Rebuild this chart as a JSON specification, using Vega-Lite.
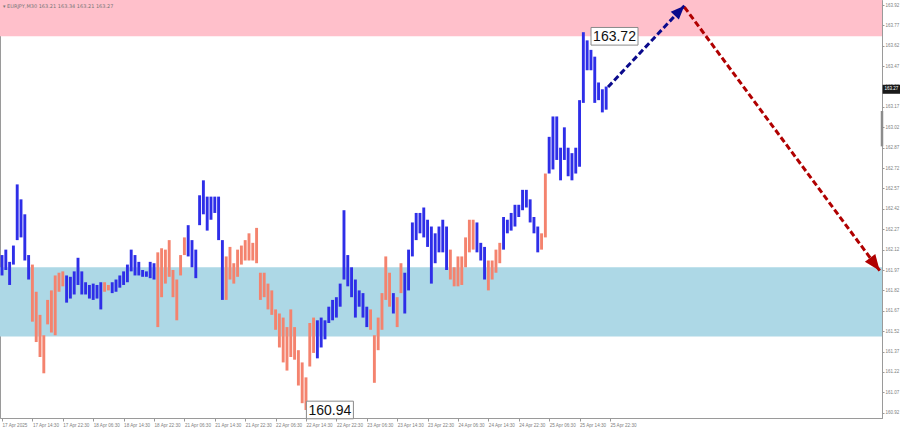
{
  "$schema": "https://vega.github.io/schema/vega-lite/v6.json",
  "width": 882,
  "height": 418,
  "autosize": {"type": "none"},
  "padding": {"left": 0, "top": 0, "right": 18, "bottom": 12},
  "background": "white",
  "title": {"text": "▾ EURJPY,M30  163.21 163.34 163.21 163.27", "anchor": "start", "frame": "group", "offset": -9, "fontSize": 5, "fontWeight": "normal", "color": "#777777", "font": "DejaVu Sans", "dx": 3},
  "config": {"view": {"stroke": "#9a9a9a", "strokeWidth": 1}, "axis": {"labelOverlap": false}},
  "datasets": {
    "zones": [
      {"zone": "resistance", "lo": 163.69, "hi": 163.957},
      {"zone": "support", "lo": 161.48, "hi": 161.99}
    ],
    "bars": [
      {"h":0,"hi":162.08,"lo":161.93,"d":"u"},{"h":1,"hi":162.12,"lo":161.97,"d":"u"},{"h":2,"hi":162.03,"lo":161.86,"d":"u"},{"h":3,"hi":162.15,"lo":162.01,"d":"u"},{"h":4,"hi":162.60,"lo":162.19,"d":"u"},{"h":5,"hi":162.49,"lo":162.21,"d":"u"},{"h":6,"hi":162.38,"lo":162.04,"d":"u"},{"h":7,"hi":162.08,"lo":161.90,"d":"u"},
      {"h":8,"hi":162.01,"lo":161.59,"d":"d"},{"h":9,"hi":161.81,"lo":161.44,"d":"d"},{"h":10,"hi":161.64,"lo":161.33,"d":"d"},{"h":11,"hi":161.49,"lo":161.21,"d":"d"},{"h":12,"hi":161.75,"lo":161.57,"d":"d"},{"h":13,"hi":161.82,"lo":161.51,"d":"d"},{"h":14,"hi":161.93,"lo":161.49,"d":"d"},{"h":15,"hi":161.95,"lo":161.81,"d":"d"},{"h":16,"hi":161.96,"lo":161.85,"d":"d"},
      {"h":17,"hi":161.93,"lo":161.73,"d":"u"},{"h":18,"hi":161.92,"lo":161.76,"d":"u"},{"h":19,"hi":161.96,"lo":161.79,"d":"u"},{"h":20,"hi":162.06,"lo":161.86,"d":"u"},{"h":21,"hi":161.96,"lo":161.79,"d":"u"},{"h":22,"hi":161.88,"lo":161.79,"d":"u"},{"h":23,"hi":161.86,"lo":161.76,"d":"u"},{"h":24,"hi":161.87,"lo":161.75,"d":"u"},{"h":25,"hi":161.86,"lo":161.76,"d":"u"},{"h":26,"hi":161.88,"lo":161.68,"d":"u"},
      {"h":27,"hi":161.88,"lo":161.81,"d":"d"},{"h":28,"hi":161.86,"lo":161.82,"d":"d"},
      {"h":29,"hi":161.88,"lo":161.80,"d":"u"},{"h":30,"hi":161.90,"lo":161.81,"d":"u"},{"h":31,"hi":161.93,"lo":161.84,"d":"u"},{"h":32,"hi":161.96,"lo":161.86,"d":"u"},{"h":33,"hi":162.01,"lo":161.88,"d":"u"},{"h":34,"hi":162.12,"lo":161.96,"d":"u"},{"h":35,"hi":162.08,"lo":161.93,"d":"u"},{"h":36,"hi":162.03,"lo":161.93,"d":"u"},{"h":37,"hi":161.97,"lo":161.92,"d":"u"},{"h":38,"hi":161.96,"lo":161.92,"d":"u"},{"h":39,"hi":162.03,"lo":161.91,"d":"u"},{"h":40,"hi":162.02,"lo":161.90,"d":"u"},
      {"h":41,"hi":162.10,"lo":161.55,"d":"d"},{"h":42,"hi":162.13,"lo":161.77,"d":"d"},{"h":43,"hi":162.12,"lo":161.87,"d":"d"},{"h":44,"hi":162.19,"lo":161.92,"d":"d"},{"h":45,"hi":161.97,"lo":161.77,"d":"d"},{"h":46,"hi":161.90,"lo":161.60,"d":"d"},{"h":47,"hi":162.08,"lo":161.93,"d":"d"},{"h":48,"hi":162.21,"lo":162.08,"d":"d"},
      {"h":49,"hi":162.30,"lo":162.07,"d":"u"},{"h":50,"hi":162.19,"lo":161.99,"d":"u"},{"h":51,"hi":162.12,"lo":161.91,"d":"u"},{"h":52,"hi":162.52,"lo":162.30,"d":"u"},{"h":53,"hi":162.63,"lo":162.38,"d":"u"},{"h":54,"hi":162.51,"lo":162.26,"d":"u"},{"h":55,"hi":162.51,"lo":162.34,"d":"u"},{"h":56,"hi":162.51,"lo":162.39,"d":"u"},{"h":57,"hi":162.51,"lo":162.19,"d":"u"},{"h":58,"hi":162.19,"lo":161.75,"d":"u"},
      {"h":59,"hi":162.07,"lo":161.75,"d":"d"},{"h":60,"hi":162.14,"lo":161.90,"d":"d"},{"h":61,"hi":162.02,"lo":161.87,"d":"d"},{"h":62,"hi":162.12,"lo":161.92,"d":"d"},{"h":63,"hi":162.15,"lo":162.01,"d":"d"},{"h":64,"hi":162.19,"lo":162.04,"d":"d"},{"h":65,"hi":162.24,"lo":162.04,"d":"d"},{"h":66,"hi":162.17,"lo":162.04,"d":"d"},{"h":67,"hi":162.28,"lo":162.02,"d":"d"},{"h":68,"hi":161.95,"lo":161.75,"d":"d"},{"h":69,"hi":161.95,"lo":161.77,"d":"d"},{"h":70,"hi":161.87,"lo":161.68,"d":"d"},{"h":71,"hi":161.82,"lo":161.64,"d":"d"},{"h":72,"hi":161.68,"lo":161.53,"d":"d"},{"h":73,"hi":161.65,"lo":161.40,"d":"d"},{"h":74,"hi":161.62,"lo":161.29,"d":"d"},{"h":75,"hi":161.55,"lo":161.23,"d":"d"},{"h":76,"hi":161.68,"lo":161.33,"d":"d"},{"h":77,"hi":161.55,"lo":161.31,"d":"d"},{"h":78,"hi":161.38,"lo":161.12,"d":"d"},{"h":79,"hi":161.29,"lo":160.99,"d":"d"},{"h":80,"hi":161.18,"lo":160.94,"d":"d"},{"h":81,"hi":161.58,"lo":161.26,"d":"d"},{"h":82,"hi":161.62,"lo":161.36,"d":"d"},
      {"h":83,"hi":161.60,"lo":161.32,"d":"u"},{"h":84,"hi":161.62,"lo":161.40,"d":"u"},{"h":85,"hi":161.60,"lo":161.46,"d":"u"},{"h":86,"hi":161.70,"lo":161.58,"d":"u"},{"h":87,"hi":161.75,"lo":161.60,"d":"u"},{"h":88,"hi":161.77,"lo":161.62,"d":"u"},{"h":89,"hi":161.87,"lo":161.70,"d":"u"},{"h":90,"hi":162.41,"lo":161.90,"d":"u"},{"h":91,"hi":162.08,"lo":161.85,"d":"u"},{"h":92,"hi":161.99,"lo":161.77,"d":"u"},{"h":93,"hi":161.90,"lo":161.62,"d":"u"},{"h":94,"hi":161.82,"lo":161.70,"d":"u"},{"h":95,"hi":161.80,"lo":161.62,"d":"u"},{"h":96,"hi":161.70,"lo":161.55,"d":"u"},
      {"h":97,"hi":161.68,"lo":161.53,"d":"d"},{"h":98,"hi":161.49,"lo":161.14,"d":"d"},{"h":99,"hi":161.62,"lo":161.38,"d":"d"},{"h":100,"hi":161.80,"lo":161.53,"d":"d"},{"h":101,"hi":162.07,"lo":161.75,"d":"d"},{"h":102,"hi":161.95,"lo":161.70,"d":"d"},{"h":103,"hi":161.80,"lo":161.65,"d":"u"},{"h":104,"hi":161.77,"lo":161.55,"d":"d"},{"h":105,"hi":162.02,"lo":161.80,"d":"d"},
      {"h":106,"hi":161.95,"lo":161.65,"d":"u"},{"h":107,"hi":162.12,"lo":161.82,"d":"u"},{"h":108,"hi":162.32,"lo":162.07,"d":"u"},{"h":109,"hi":162.39,"lo":162.19,"d":"u"},{"h":110,"hi":162.39,"lo":162.24,"d":"u"},{"h":111,"hi":162.43,"lo":162.21,"d":"u"},{"h":112,"hi":162.34,"lo":162.14,"d":"u"},{"h":113,"hi":162.29,"lo":161.87,"d":"u"},{"h":114,"hi":162.24,"lo":162.02,"d":"u"},{"h":115,"hi":162.29,"lo":162.10,"d":"u"},{"h":116,"hi":162.34,"lo":162.10,"d":"u"},{"h":117,"hi":162.29,"lo":161.97,"d":"u"},
      {"h":118,"hi":162.12,"lo":161.90,"d":"d"},{"h":119,"hi":161.99,"lo":161.85,"d":"d"},{"h":120,"hi":162.07,"lo":161.85,"d":"d"},{"h":121,"hi":162.07,"lo":161.86,"d":"d"},{"h":122,"hi":162.21,"lo":161.99,"d":"d"},{"h":123,"hi":162.34,"lo":162.10,"d":"d"},{"h":124,"hi":162.34,"lo":162.12,"d":"d"},
      {"h":125,"hi":162.32,"lo":162.10,"d":"u"},{"h":126,"hi":162.17,"lo":162.04,"d":"u"},{"h":127,"hi":162.14,"lo":161.90,"d":"u"},
      {"h":128,"hi":162.04,"lo":161.82,"d":"d"},{"h":129,"hi":162.04,"lo":161.90,"d":"d"},{"h":130,"hi":162.12,"lo":161.95,"d":"d"},{"h":131,"hi":162.17,"lo":162.02,"d":"d"},
      {"h":132,"hi":162.36,"lo":162.12,"d":"u"},{"h":133,"hi":162.34,"lo":162.24,"d":"u"},{"h":134,"hi":162.39,"lo":162.26,"d":"u"},{"h":135,"hi":162.45,"lo":162.29,"d":"u"},{"h":136,"hi":162.45,"lo":162.36,"d":"u"},{"h":137,"hi":162.56,"lo":162.41,"d":"u"},{"h":138,"hi":162.56,"lo":162.43,"d":"u"},{"h":139,"hi":162.49,"lo":162.32,"d":"u"},{"h":140,"hi":162.36,"lo":162.24,"d":"u"},{"h":141,"hi":162.29,"lo":162.10,"d":"u"},
      {"h":142,"hi":162.24,"lo":162.12,"d":"d"},{"h":143,"hi":162.68,"lo":162.21,"d":"d"},
      {"h":144,"hi":162.95,"lo":162.68,"d":"u"},{"h":145,"hi":163.10,"lo":162.71,"d":"u"},{"h":146,"hi":163.10,"lo":162.78,"d":"u"},{"h":147,"hi":162.87,"lo":162.63,"d":"u"},{"h":148,"hi":163.02,"lo":162.78,"d":"u"},{"h":149,"hi":162.87,"lo":162.66,"d":"u"},{"h":150,"hi":162.83,"lo":162.63,"d":"u"},{"h":151,"hi":162.87,"lo":162.68,"d":"u"},{"h":152,"hi":163.22,"lo":162.73,"d":"u"},{"h":153,"hi":163.72,"lo":163.20,"d":"u"},{"h":154,"hi":163.66,"lo":163.44,"d":"u"},{"h":155,"hi":163.59,"lo":163.44,"d":"u"},{"h":156,"hi":163.54,"lo":163.20,"d":"u"},{"h":157,"hi":163.35,"lo":163.22,"d":"u"},{"h":158,"hi":163.30,"lo":163.13,"d":"u"},{"h":159,"hi":163.32,"lo":163.15,"d":"u"}
    ],
    "arrows": [
      {"a": "rise", "h": 159.5, "p": 163.317},
      {"a": "rise", "h": 179.6, "p": 163.915},
      {"a": "fall", "h": 179.6, "p": 163.905},
      {"a": "fall", "h": 231.0, "p": 161.965}
    ],
    "labels": [
      {"txt": "163.72", "h": 161.2, "p": 163.69},
      {"txt": "160.94", "h": 86.3, "p": 160.94}
    ],
    "lastPrice": [{"p": 163.30, "txt": "163.27"}],
    "shift": [{"top": 163.14, "bottom": 162.88}]
  },
  "layer": [
    {
      "data": {"name": "zones"},
      "mark": {"type": "rect"},
      "encoding": {
        "y": {"field": "lo", "type": "quantitative"},
        "y2": {"field": "hi"},
        "fill": {"field": "zone", "type": "nominal", "scale": {"domain": ["resistance", "support"], "range": ["#ffc0cb", "#add8e6"]}, "legend": null}
      }
    },
    {
      "data": {"name": "bars"},
      "mark": {"type": "rule", "strokeWidth": 2.9},
      "encoding": {
        "x": {"field": "h", "type": "quantitative", "scale": {"domain": [-0.53, 231.6], "nice": false, "zero": false},
          "axis": {"values": [0,8,16,24,32,40,48,56,64,72,80,88,96,104,112,120,128,136,144,152,160], "tickCount": 30, "title": null, "grid": false, "labelAlign": "left", "labelFontSize": 4.6, "labelFont": "Liberation Sans", "labelColor": "#808080", "tickColor": "#999999", "domainColor": "#9a9a9a", "tickSize": 3, "labelPadding": 1, "labelOverlap": false, "labelFlush": false, "labelBound": false,
            "labelExpr": "['17 Apr 2025','17 Apr 14:30','17 Apr 22:30','18 Apr 06:30','18 Apr 14:30','18 Apr 22:30','21 Apr 06:30','21 Apr 14:30','21 Apr 22:30','22 Apr 06:30','22 Apr 14:30','22 Apr 22:30','23 Apr 06:30','23 Apr 14:30','23 Apr 22:30','24 Apr 06:30','24 Apr 14:30','24 Apr 22:30','25 Apr 06:30','25 Apr 14:30','25 Apr 22:30'][round(datum.value/8)]"}},
        "y": {"field": "lo", "type": "quantitative", "scale": {"domain": [160.881, 163.957], "nice": false, "zero": false},
          "axis": {"orient": "right", "values": [160.92,161.07,161.22,161.37,161.52,161.67,161.82,161.97,162.12,162.27,162.42,162.57,162.72,162.87,163.02,163.17,163.32,163.47,163.62,163.77,163.92], "tickCount": 30, "format": ".2f", "title": null, "grid": false, "labelFontSize": 4.5, "labelFont": "Liberation Sans", "labelColor": "#808080", "tickColor": "#999999", "domainColor": "#9a9a9a", "tickSize": 2, "labelPadding": 1, "labelOverlap": false, "labelFlush": false, "labelBound": false}},
        "y2": {"field": "hi"},
        "stroke": {"field": "d", "type": "nominal", "scale": {"domain": ["u", "d"], "range": ["#2e2ee8", "#f4836e"]}, "legend": null}
      }
    },
    {
      "data": {"name": "arrows"},
      "transform": [{"filter": "datum.a == 'rise'"}],
      "mark": {"type": "line", "color": "#0a0a8c", "strokeWidth": 3, "strokeDash": [6, 3]},
      "encoding": {
        "x": {"field": "h", "type": "quantitative"},
        "y": {"field": "p", "type": "quantitative"}
      }
    },
    {
      "data": {"name": "arrows"},
      "transform": [{"filter": "datum.a == 'fall'"}],
      "mark": {"type": "line", "color": "#b00000", "strokeWidth": 3, "strokeDash": [6, 3]},
      "encoding": {
        "x": {"field": "h", "type": "quantitative"},
        "y": {"field": "p", "type": "quantitative"}
      }
    },
    {
      "data": {"name": "arrows"},
      "transform": [{"filter": "datum.a == 'rise' && datum.h > 170"}],
      "mark": {"type": "point", "shape": "M0,0L0.65,1.6L-0.65,1.6Z", "filled": true, "color": "#0a0a8c", "opacity": 1, "size": 300, "angle": 44},
      "encoding": {
        "x": {"field": "h", "type": "quantitative"},
        "y": {"field": "p", "type": "quantitative"}
      }
    },
    {
      "data": {"name": "arrows"},
      "transform": [{"filter": "datum.a == 'fall' && datum.h > 200"}],
      "mark": {"type": "point", "shape": "M0,0L0.65,1.6L-0.65,1.6Z", "filled": true, "color": "#b00000", "opacity": 1, "size": 400, "angle": 143},
      "encoding": {
        "x": {"field": "h", "type": "quantitative"},
        "y": {"field": "p", "type": "quantitative"}
      }
    },
    {
      "data": {"name": "labels"},
      "mark": {"type": "point", "shape": "M-1,-0.375H1V0.375H-1Z", "filled": true, "fill": "white", "stroke": "#8a8a8a", "strokeWidth": 1, "opacity": 1, "size": 2209},
      "encoding": {
        "x": {"field": "h", "type": "quantitative"},
        "y": {"field": "p", "type": "quantitative"}
      }
    },
    {
      "data": {"name": "labels"},
      "mark": {"type": "text", "font": "Liberation Sans", "fontSize": 14, "color": "#111111", "align": "center", "baseline": "middle", "dy": 1},
      "encoding": {
        "x": {"field": "h", "type": "quantitative"},
        "y": {"field": "p", "type": "quantitative"},
        "text": {"field": "txt"}
      }
    },
    {
      "data": {"name": "shift"},
      "mark": {"type": "rule", "color": "#8c8c8c", "strokeWidth": 2.5},
      "encoding": {
        "x": {"value": "width"},
        "y": {"field": "top", "type": "quantitative"},
        "y2": {"field": "bottom"}
      }
    },
    {
      "data": {"name": "lastPrice"},
      "mark": {"type": "point", "shape": "M0.1,-0.75H3.1V0.75H0.1Z", "filled": true, "color": "#1a1a1a", "opacity": 1, "size": 144},
      "encoding": {
        "x": {"value": "width"},
        "y": {"field": "p", "type": "quantitative"}
      }
    },
    {
      "data": {"name": "lastPrice"},
      "mark": {"type": "text", "font": "Liberation Sans", "fontSize": 4.5, "color": "white", "align": "left", "baseline": "middle", "dx": 2.5},
      "encoding": {
        "x": {"value": "width"},
        "y": {"field": "p", "type": "quantitative"},
        "text": {"field": "txt"}
      }
    }
  ]
}
